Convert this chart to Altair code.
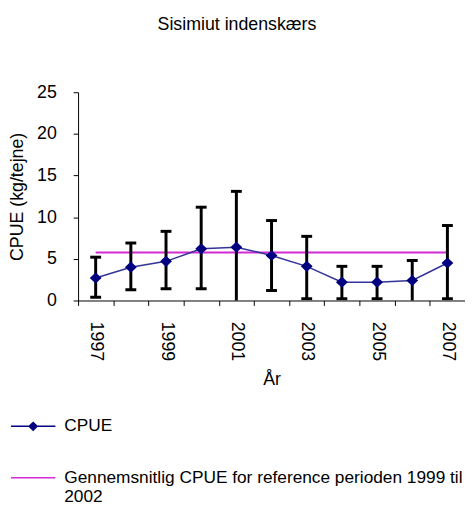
import altair as alt
import pandas as pd

# ---- data ----
years = [1997, 1998, 1999, 2000, 2001, 2002, 2003, 2004, 2005, 2006, 2007]
cpue = [2.7, 4.0, 4.7, 6.2, 6.4, 5.4, 4.1, 2.2, 2.2, 2.4, 4.5]
upper = [5.2, 6.9, 8.3, 11.2, 13.1, 9.6, 7.7, 4.1, 4.1, 4.8, 9.0]
lower = [0.4, 1.3, 1.4, 1.4, -0.3, 1.2, 0.2, 0.2, 0.2, -0.2, 0.2]
ref_value = 5.75
series_names = ["CPUE", "Gennemsnitlig CPUE for reference perioden 1999 til 2002"]
y_ticks = [0, 5, 10, 15, 20, 25]

NAVY = "#000080"
LINE_NAVY = "#333399"
MAGENTA = "#d42ad4"
FONT = "Liberation Sans"

df = pd.DataFrame({
    "year": years,
    "cpue": cpue,
    "upper": upper,
    "lower": lower,
    "ref": [ref_value] * len(years),
    "series": [series_names[0]] * len(years),
})

ytitle = "CPUE (kg/tejne)"
yscale = alt.Scale(domain=[0, 25], nice=False)

x_enc = alt.X(
    "year:O",
    scale=alt.Scale(type="band", paddingInner=0, paddingOuter=0),
    axis=alt.Axis(
        title="År",
        labelAngle=90,
        labelExpr="datum.value % 2 == 1 ? datum.label : ''",
        tickBand="extent",
        tickSize=5,
        labelPadding=16,
        titlePadding=10,
    ),
)

base = alt.Chart(df).encode(x=x_enc)

ref_line = base.mark_line(color=MAGENTA, strokeWidth=2).encode(
    y=alt.Y("ref:Q", scale=yscale, title=ytitle,
            axis=alt.Axis(values=y_ticks, grid=False, tickSize=5,
                          labelPadding=17, titlePadding=10))
)

err = base.mark_rule(color="black", strokeWidth=3, clip=True).encode(
    y=alt.Y("lower:Q", scale=yscale, title=ytitle),
    y2="upper:Q",
)
cap_top = base.mark_tick(color="black", thickness=3, size=11, opacity=1).encode(
    y=alt.Y("upper:Q", scale=yscale, title=ytitle)
)
cap_low = base.mark_tick(color="black", thickness=3, size=11, opacity=1, clip=True).encode(
    y=alt.Y("lower:Q", scale=yscale, title=ytitle)
)

cpue_line = base.mark_line(color=LINE_NAVY, strokeWidth=1.5).encode(
    y=alt.Y("cpue:Q", scale=yscale, title=ytitle)
)

diamond_path = "M-1,0H1M0,-0.17L0.18,0L0,0.17L-0.18,0Z"
line_path = "M-1,0H1"

leg = alt.Legend(
    title=None,
    orient="none",
    legendX=-69,
    legendY=315,
    direction="vertical",
    symbolSize=2025,
    symbolStrokeWidth=1.5,
    labelFont=FONT,
    labelFontSize=17.5,
    labelColor="black",
    labelLimit=1000,
    labelOffset=8,
    rowPadding=20,
    padding=0,
    labelExpr="datum.label == 'CPUE' ? 'CPUE' : ['Gennemsnitlig CPUE for reference perioden 1999 til', '2002']",
)

points = base.mark_point(filled=True, opacity=1, strokeWidth=0, size=4444).encode(
    y=alt.Y("cpue:Q", scale=yscale, title=ytitle),
    fill=alt.Fill("series:N", scale=alt.Scale(domain=series_names, range=[NAVY, MAGENTA]), legend=leg),
    stroke=alt.Stroke("series:N", scale=alt.Scale(domain=series_names, range=[NAVY, MAGENTA]), legend=leg),
    shape=alt.Shape("series:N", scale=alt.Scale(domain=series_names, range=[diamond_path, line_path]), legend=leg),
)

chart = (
    alt.layer(ref_line, err, cap_top, cap_low, cpue_line, points)
    .properties(
        width=392,
        height=211,
        autosize=alt.AutoSizeParams(type="none"),
        padding={"left": 71, "top": 82, "right": 0, "bottom": 215},
        title=alt.TitleParams(
            "Sisimiut indenskærs",
            font=FONT,
            fontSize=18,
            fontWeight="normal",
            color="black",
            anchor="middle",
            dx=-35,
            offset=36,
            baseline="alphabetic",
        ),
    )
    .configure_view(stroke=None)
    .configure_axis(
        labelFont=FONT,
        titleFont=FONT,
        labelFontSize=18,
        titleFontSize=18,
        titleFontWeight="normal",
        labelColor="black",
        titleColor="black",
        domainColor="black",
        tickColor="black",
        domainWidth=1,
        tickWidth=1,
    )
)

chart.save("out.html", embed_options={"renderer": "svg", "actions": False})
